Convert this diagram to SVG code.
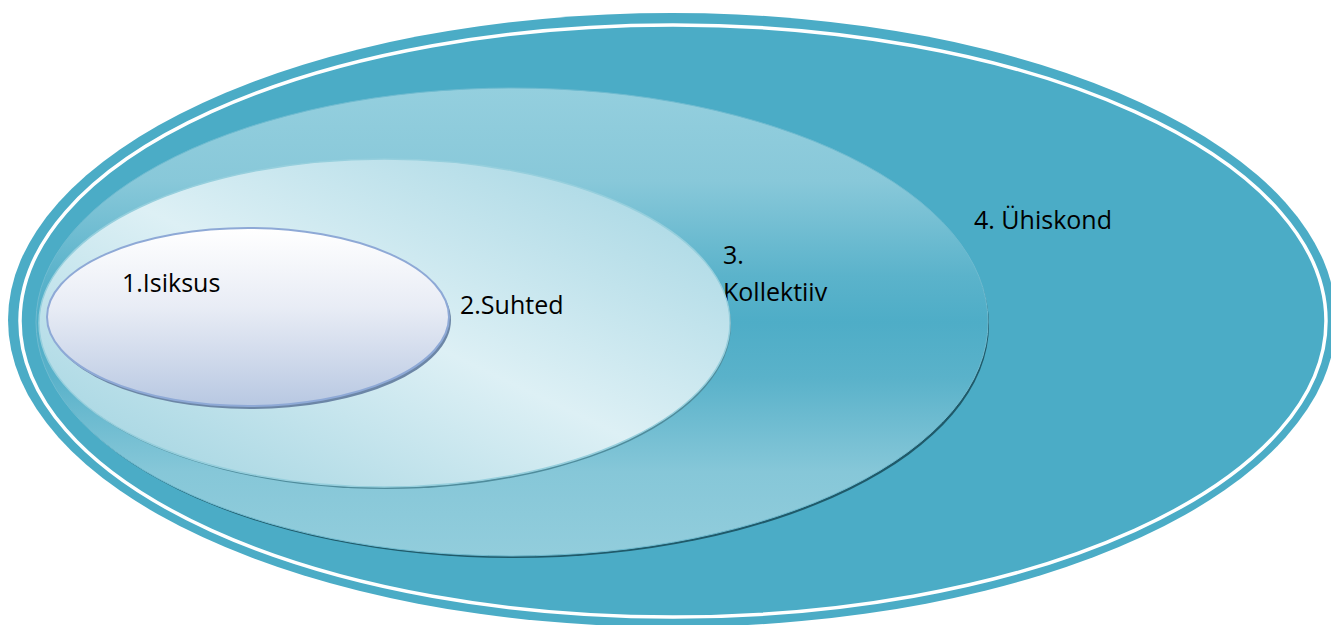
<svg xmlns="http://www.w3.org/2000/svg" width="1331" height="625" viewBox="0 0 1331 625">
  <style>
    .lbl { font-family: "Open Sans", "Noto Sans", "DejaVu Sans", sans-serif; font-size: 25px; fill: #000000; }
  </style>
  <defs>
    <linearGradient id="g3" x1="0" y1="0" x2="0" y2="1">
      <stop offset="0" stop-color="#94CFDE"/>
      <stop offset="0.2" stop-color="#88C8D9"/>
      <stop offset="0.4" stop-color="#5BB3CB"/>
      <stop offset="0.5" stop-color="#4EADC7"/>
      <stop offset="0.62" stop-color="#5AB2CA"/>
      <stop offset="0.82" stop-color="#86C7D8"/>
      <stop offset="1" stop-color="#92CDDC"/>
    </linearGradient>
    <linearGradient id="g2" x1="1" y1="0" x2="0" y2="1">
      <stop offset="0" stop-color="#9FD3E1"/>
      <stop offset="0.5" stop-color="#DDF0F5"/>
      <stop offset="1" stop-color="#9AD0DE"/>
    </linearGradient>
    <linearGradient id="g1" x1="0" y1="0" x2="0" y2="1">
      <stop offset="0" stop-color="#FFFFFF"/>
      <stop offset="0.45" stop-color="#E8ECF5"/>
      <stop offset="1" stop-color="#B8C8E2"/>
    </linearGradient>
  </defs>

  <g id="node-4-uhiskond">
    <ellipse cx="672" cy="320" rx="664" ry="307" fill="#4BACC6"/>
    <ellipse cx="673" cy="321" rx="653" ry="296" fill="none" stroke="#FFFFFF" stroke-width="3.5"/>
    <text class="lbl" x="974" y="229">4. Ühiskond</text>
  </g>

  <g id="node-3-kollektiiv">
    <ellipse cx="514" cy="325" rx="475" ry="233" fill="#1F5A6A"/>
    <ellipse cx="512" cy="322" rx="476" ry="234" fill="url(#g3)" stroke="#6FBBD0" stroke-width="1"/>
    <text class="lbl" x="723" y="264">3.</text>
    <text class="lbl" x="723" y="301">Kollektiiv</text>
  </g>

  <g id="node-2-suhted">
    <ellipse cx="386" cy="325" rx="345" ry="164" fill="#4F8C9C"/>
    <ellipse cx="384.5" cy="323" rx="345.5" ry="164" fill="url(#g2)" stroke="#96CFDD" stroke-width="1.5"/>
    <text class="lbl" x="460" y="314">2.Suhted</text>
  </g>

  <g id="node-1-isiksus">
    <ellipse cx="250" cy="320" rx="201" ry="89" fill="#6C86A6"/>
    <ellipse cx="248" cy="317" rx="201" ry="89" fill="url(#g1)" stroke="#8EA9D6" stroke-width="2"/>
    <text class="lbl" x="122" y="292">1.Isiksus</text>
  </g>

  <g id="connectors"/>
</svg>
